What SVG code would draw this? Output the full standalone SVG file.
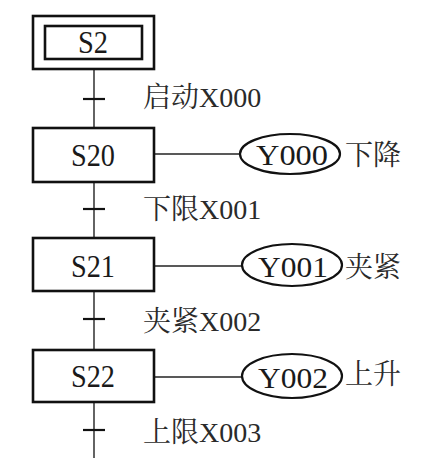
<svg xmlns="http://www.w3.org/2000/svg" width="437" height="470" viewBox="0 0 437 470">
<style>
.box{fill:#fff;stroke:#111;stroke-width:2.6}
.act{fill:#fff;stroke:#111;stroke-width:2.2}
.ln{stroke:#222;stroke-width:1.4;fill:none}
.tk{stroke:#111;stroke-width:2.2}
.lbl{font-family:"Liberation Serif","Noto Serif CJK SC","Noto Sans CJK SC",serif;font-size:31px;fill:#1a1a1a;text-anchor:middle}
.yl{font-family:"Liberation Serif","Noto Serif CJK SC","Noto Sans CJK SC",serif;font-size:30px;fill:#1a1a1a;text-anchor:middle}
.tr{font-family:"Liberation Serif","Noto Serif CJK SC","Noto Sans CJK SC",serif;font-size:28px;fill:#2a2a2a}
</style>
<rect width="437" height="470" fill="#fff"/>
<g id="connectors">
<line class="ln" x1="94" y1="69" x2="94" y2="128"/>
<line class="ln" x1="94" y1="182" x2="94" y2="238"/>
<line class="ln" x1="94" y1="291" x2="94" y2="350"/>
<line class="ln" x1="94" y1="402" x2="94" y2="458"/>
<line class="tk" x1="83" y1="99" x2="105" y2="99"/>
<line class="tk" x1="83" y1="209" x2="105" y2="209"/>
<line class="tk" x1="83" y1="319" x2="105" y2="319"/>
<line class="tk" x1="83" y1="430" x2="105" y2="430"/>
<line class="ln" x1="154" y1="154" x2="240" y2="154"/>
<line class="ln" x1="154" y1="266" x2="242" y2="266"/>
<line class="ln" x1="154" y1="377" x2="242" y2="377"/>
</g>
<g id="S2">
<rect class="box" x="33" y="16" width="121" height="53"/>
<rect class="box" x="45" y="26" width="97" height="33"/>
<text class="lbl" x="93" y="53" textLength="30" lengthAdjust="spacingAndGlyphs">S2</text>
</g>
<g id="t1"><text class="tr" x="143" y="107">启动X000</text></g>
<g id="S20">
<rect class="box" x="33" y="128" width="121" height="54"/>
<text class="lbl" x="93" y="166" textLength="44" lengthAdjust="spacingAndGlyphs">S20</text>
</g>
<g id="Y000">
<ellipse class="act" cx="290" cy="154" rx="50" ry="20"/>
<text class="yl" x="292" y="165" textLength="72" lengthAdjust="spacingAndGlyphs">Y000</text>
<text class="tr" x="345" y="165">下降</text>
</g>
<g id="t2"><text class="tr" x="143" y="219">下限X001</text></g>
<g id="S21">
<rect class="box" x="33" y="238" width="121" height="53"/>
<text class="lbl" x="93" y="277" textLength="44" lengthAdjust="spacingAndGlyphs">S21</text>
</g>
<g id="Y001">
<ellipse class="act" cx="292" cy="265" rx="50" ry="21"/>
<text class="yl" x="293" y="277" textLength="70" lengthAdjust="spacingAndGlyphs">Y001</text>
<text class="tr" x="345" y="277">夹紧</text>
</g>
<g id="t3"><text class="tr" x="143" y="331">夹紧X002</text></g>
<g id="S22">
<rect class="box" x="33" y="350" width="121" height="52"/>
<text class="lbl" x="93" y="387" textLength="44" lengthAdjust="spacingAndGlyphs">S22</text>
</g>
<g id="Y002">
<ellipse class="act" cx="292" cy="376" rx="50" ry="22"/>
<text class="yl" x="293" y="388" textLength="70" lengthAdjust="spacingAndGlyphs">Y002</text>
<text class="tr" x="345" y="384">上升</text>
</g>
<g id="t4"><text class="tr" x="143" y="442">上限X003</text></g>
</svg>
